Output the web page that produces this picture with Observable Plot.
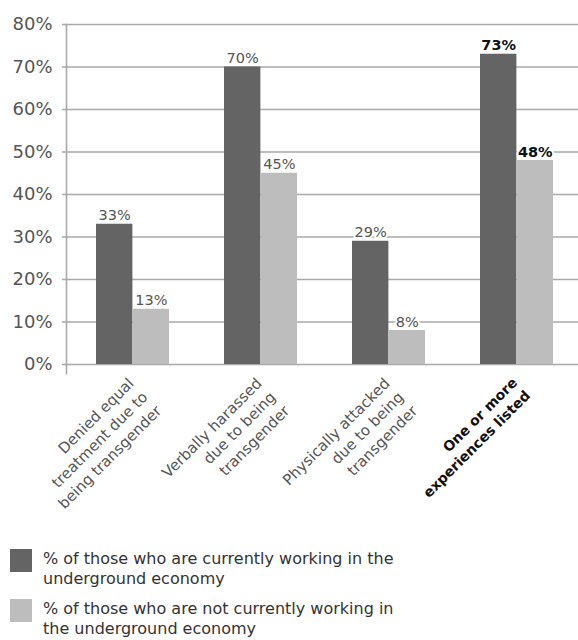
<!DOCTYPE html>
<html>
<head>
<meta charset="utf-8">
<script src="https://cdn.jsdelivr.net/npm/d3@7"></script>
<script src="https://cdn.jsdelivr.net/npm/@observablehq/plot@0.6"></script>
<style>
  body { margin: 0; background: #fff; font-family: "DejaVu Sans", sans-serif; }
  #chart svg { display: block; }
  .legend { padding-top: 9px; }
  .item { display: flex; align-items: flex-start; margin-bottom: 10px; }
  .sw { width: 22px; height: 23px; margin-left: 10px; margin-right: 11px; flex: none; }
  .lab { font-size: 16px; line-height: 20px; color: #333; width: 365px; }
</style>
</head>
<body>
<div id="chart"></div>
<div class="legend" id="legend"></div>
<script>
const categories = [
  "Denied equal\ntreatment due to\nbeing transgender",
  "Verbally harassed\ndue to being\ntransgender",
  "Physically attacked\ndue to being\ntransgender",
  "One or more\nexperiences listed"
];
const working = [33, 70, 29, 73];
const notWorking = [13, 45, 8, 48];
const seriesNames = [
  "% of those who are currently working in the underground economy",
  "% of those who are not currently working in the underground economy"
];
const seriesColors = ["#646464", "#bdbdbd"];
const yTicks = [0, 10, 20, 30, 40, 50, 60, 70, 80];
const highlight = "One or more\nexperiences listed";

const dark = categories.map((c, i) => ({cat: c, value: working[i]}));
const light = categories.map((c, i) => ({cat: c, value: notWorking[i]}));
const isHi = d => d.cat === highlight;
const half = 36.6;

const chart = Plot.plot({
  width: 578,
  height: 540,
  marginTop: 24,
  marginBottom: 176,
  marginLeft: 66,
  marginRight: 0,
  style: {fontFamily: "DejaVu Sans, sans-serif", background: "#fff"},
  x: {domain: categories, range: [66, 583], paddingInner: 0.428, paddingOuter: 0.232, axis: null},
  y: {domain: [0, 80], axis: null},
  marks: [
    Plot.ruleY(yTicks, {stroke: "#a9a9a9", strokeWidth: 1.6, insetLeft: -4}),
    Plot.frame({anchor: "left", stroke: "#a9a9a9", strokeWidth: 1.6, insetBottom: -9}),
    Plot.axisY({ticks: yTicks, label: null, tickSize: 0, tickPadding: 14, tickFormat: d => d + "%", fontSize: 18, color: "#555"}),
    Plot.barY(dark, {x: "cat", y: "value", fill: seriesColors[0], insetRight: half}),
    Plot.barY(light, {x: "cat", y: "value", fill: seriesColors[1], insetLeft: half}),
    Plot.text(dark.filter(d => !isHi(d)), {x: "cat", y: "value", text: d => d.value + "%", dx: -half / 2, dy: -4, lineAnchor: "bottom", fontSize: 14.5, fill: "#555", stroke: "white", strokeWidth: 4, paintOrder: "stroke"}),
    Plot.text(light.filter(d => !isHi(d)), {x: "cat", y: "value", text: d => d.value + "%", dx: half / 2, dy: -4, lineAnchor: "bottom", fontSize: 14.5, fill: "#555", stroke: "white", strokeWidth: 4, paintOrder: "stroke"}),
    Plot.text(dark.filter(isHi), {x: "cat", y: "value", text: d => d.value + "%", dx: -half / 2, dy: -4, lineAnchor: "bottom", fontSize: 14.5, fontWeight: "bold", fill: "#111", stroke: "white", strokeWidth: 4, paintOrder: "stroke"}),
    Plot.text(light.filter(isHi), {x: "cat", y: "value", text: d => d.value + "%", dx: half / 2, dy: -4, lineAnchor: "bottom", fontSize: 14.5, fontWeight: "bold", fill: "#111", stroke: "white", strokeWidth: 4, paintOrder: "stroke"}),
    Plot.text(categories.filter(c => c !== highlight), {x: d => d, frameAnchor: "bottom", text: d => d, rotate: -45, textAnchor: "end", lineAnchor: "top", dx: -8, dy: 10, lineHeight: 1.3, fontSize: 15, fill: "#555"}),
    Plot.text([highlight], {x: d => d, frameAnchor: "bottom", text: d => d, rotate: -45, textAnchor: "end", lineAnchor: "top", dx: -8, dy: 10, lineHeight: 1.3, fontSize: 14, fontWeight: "bold", fill: "#111"})
  ]
});
document.getElementById("chart").appendChild(chart);

const legend = document.getElementById("legend");
seriesNames.forEach((name, i) => {
  const item = document.createElement("div");
  item.className = "item";
  const sw = document.createElement("div");
  sw.className = "sw";
  sw.style.background = seriesColors[i];
  const lab = document.createElement("div");
  lab.className = "lab";
  lab.textContent = name;
  item.appendChild(sw);
  item.appendChild(lab);
  legend.appendChild(item);
});
</script>
</body>
</html>
